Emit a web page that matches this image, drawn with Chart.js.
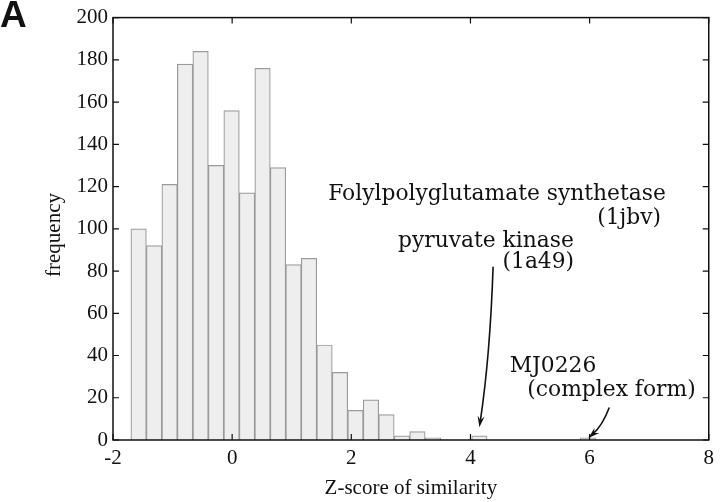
<!DOCTYPE html>
<html>
<head>
<meta charset="utf-8">
<script src="https://cdn.jsdelivr.net/npm/chart.js@4/dist/chart.umd.min.js"></script>
<style>
  html, body { margin: 0; padding: 0; background: #fff; }
  #wrap { width: 720px; height: 502px; position: relative; }
</style>
</head>
<body>
<div id="wrap"><canvas id="histChart"></canvas></div>
<script>
// histogram bins (centre of each 0.26 wide bin) and counts
const binCenters = [-1.57, -1.31, -1.05, -0.79, -0.53, -0.27, -0.01, 0.25, 0.51, 0.77,
  1.03, 1.29, 1.55, 1.81, 2.07, 2.33, 2.59, 2.85, 3.11, 3.37,
  3.63, 3.89, 4.15, 4.41, 4.67, 4.93, 5.19, 5.45, 5.71, 5.97];
const counts = [100, 92, 121, 178, 184, 130, 156, 117, 176, 129,
  83, 86, 45, 32, 14, 19, 12, 2, 4, 1,
  0, 0, 2, 0, 0, 0, 0, 0, 0, 1];
const xTicks = [-2, 0, 2, 4, 6, 8];
const yTicks = [0, 20, 40, 60, 80, 100, 120, 140, 160, 180, 200];

// labels for the marked structures, anchored in data units
const notes = [
  { text: 'Folylpolyglutamate synthetase', x: 7.28, y: 113.5, align: 'right' },
  { text: '(1jbv)', x: 7.2, y: 102.3, align: 'right' },
  { text: 'pyruvate kinase', x: 4.26, y: 91.6, align: 'center' },
  { text: '(1a49)', x: 5.74, y: 81.3, align: 'right' },
  { text: 'MJ0226', x: 4.66, y: 32.2, align: 'left' },
  { text: '(complex form)', x: 7.78, y: 20.6, align: 'right' }
];
// arrows: start, bend, tip (data units)
const arrows = [
  { from: [4.38, 82], via: [4.33, 40], to: [4.15, 6] },
  { from: [6.33, 15.4], via: [6.22, 7], to: [5.98, 1] }
];

const frame = {
  id: 'frame',
  afterDraw(chart) {
    const { ctx, chartArea: a } = chart;
    const x = chart.scales.x, y = chart.scales.y;
    ctx.save();
    ctx.strokeStyle = '#111';
    ctx.lineWidth = 1.5;
    ctx.strokeRect(a.left, a.top, a.right - a.left, a.bottom - a.top);

    ctx.lineWidth = 1.2;
    ctx.beginPath();
    xTicks.forEach(v => {
      let px = x.getPixelForValue(v);
      ctx.moveTo(px, a.bottom); ctx.lineTo(px, a.bottom - 6);
      ctx.moveTo(px, a.top); ctx.lineTo(px, a.top + 6);
    });
    yTicks.forEach(v => {
      let py = y.getPixelForValue(v);
      ctx.moveTo(a.left, py); ctx.lineTo(a.left + 6, py);
      ctx.moveTo(a.right, py); ctx.lineTo(a.right - 6, py);
    });
    ctx.stroke();

    // annotations
    ctx.fillStyle = '#111';
    ctx.font = '21.8px "DejaVu Serif"';
    ctx.textBaseline = 'alphabetic';
    notes.forEach(n => {
      ctx.textAlign = n.align;
      ctx.fillText(n.text, x.getPixelForValue(n.x), y.getPixelForValue(n.y));
    });

    ctx.lineWidth = 1.6;
    arrows.forEach(ar => {
      let x0 = x.getPixelForValue(ar.from[0]), y0 = y.getPixelForValue(ar.from[1]);
      let cx = x.getPixelForValue(ar.via[0]), cy = y.getPixelForValue(ar.via[1]);
      let x1 = x.getPixelForValue(ar.to[0]), y1 = y.getPixelForValue(ar.to[1]);
      let ang = Math.atan2(y1 - cy, x1 - cx);
      let hl = 12;
      ctx.beginPath();
      ctx.moveTo(x0, y0);
      ctx.quadraticCurveTo(cx, cy, x1 - Math.cos(ang) * 6, y1 - Math.sin(ang) * 6);
      ctx.stroke();
      ctx.beginPath();
      ctx.moveTo(x1, y1);
      ctx.lineTo(x1 - hl * Math.cos(ang - 0.3), y1 - hl * Math.sin(ang - 0.3));
      ctx.lineTo(x1 - hl * 0.6 * Math.cos(ang), y1 - hl * 0.6 * Math.sin(ang));
      ctx.lineTo(x1 - hl * Math.cos(ang + 0.3), y1 - hl * Math.sin(ang + 0.3));
      ctx.closePath();
      ctx.fill();
    });

    // axis titles
    ctx.font = '21px "Liberation Serif"';
    ctx.textAlign = 'center';
    ctx.textBaseline = 'middle';
    ctx.fillText('Z-score of similarity', (a.left + a.right) / 2, 488);
    ctx.save();
    ctx.translate(54, 235);
    ctx.rotate(-Math.PI / 2);
    ctx.fillText('frequency', 0, 0);
    ctx.restore();

    // panel letter
    ctx.font = 'bold 37px "Liberation Sans"';
    ctx.textAlign = 'left';
    ctx.textBaseline = 'alphabetic';
    ctx.fillText('A', 0, 27);
    ctx.restore();
  }
};

new Chart(document.getElementById('histChart'), {
  type: 'bar',
  data: {
    datasets: [{
      label: 'frequency',
      data: binCenters.map((c, i) => ({ x: c, y: counts[i] })),
      backgroundColor: '#eeeeee',
      borderColor: '#9a9a9a',
      borderWidth: 1.2,
      barPercentage: 1,
      categoryPercentage: 1
    }]
  },
  options: {
    responsive: true,
    maintainAspectRatio: false,
    animation: false,
    layout: { padding: { top: 12, right: 8, left: 0, bottom: 0 } },
    plugins: { legend: { display: false }, tooltip: { enabled: false } },
    scales: {
      x: {
        type: 'linear',
        min: -2, max: 8,
        offset: false,
        grid: { display: false, drawTicks: false, offset: false },
        border: { display: false },
        ticks: {
          stepSize: 2, padding: 6, color: '#111',
          font: { family: 'Liberation Serif', size: 21 }
        },
        afterFit(scale) { scale.height = 62; }
      },
      y: {
        min: 0, max: 200,
        grid: { display: false, drawTicks: false },
        border: { display: false },
        ticks: {
          stepSize: 20, padding: 5, color: '#111',
          font: { family: 'Liberation Serif', size: 21 }
        },
        afterFit(scale) { scale.width = 113; }
      }
    }
  },
  plugins: [frame]
});
</script>
</body>
</html>
